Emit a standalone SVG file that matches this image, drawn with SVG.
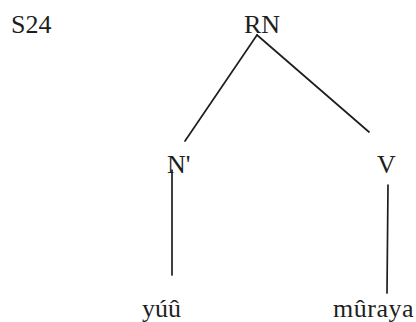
<svg xmlns="http://www.w3.org/2000/svg" width="416" height="322" viewBox="0 0 416 322">
<style>
text{font-family:"Liberation Serif","Times New Roman",serif;font-size:26px;fill:#1e1e1e}
.e{stroke:#1e1e1e;stroke-width:1.7;fill:none;stroke-linecap:round}
</style>
<rect width="416" height="322" fill="#fff"/>
<g id="label"><text x="11" y="33">S24</text></g>
<g id="RN"><text x="244" y="33">RN</text></g>
<g id="Nbar"><text x="167" y="173">N'</text></g>
<g id="V"><text x="377" y="173">V</text></g>
<g id="yuu"><text x="142" y="317">yúû</text></g>
<g id="muraya"><text x="333" y="317" letter-spacing="0.5">mûraya</text></g>
<g id="connectors">
<line class="e" x1="257" y1="35" x2="185" y2="141"/>
<line class="e" x1="257" y1="35" x2="369" y2="132"/>
<line class="e" x1="172" y1="170" x2="172" y2="275"/>
<line class="e" x1="388" y1="185" x2="387" y2="293"/>
</g>
</svg>
